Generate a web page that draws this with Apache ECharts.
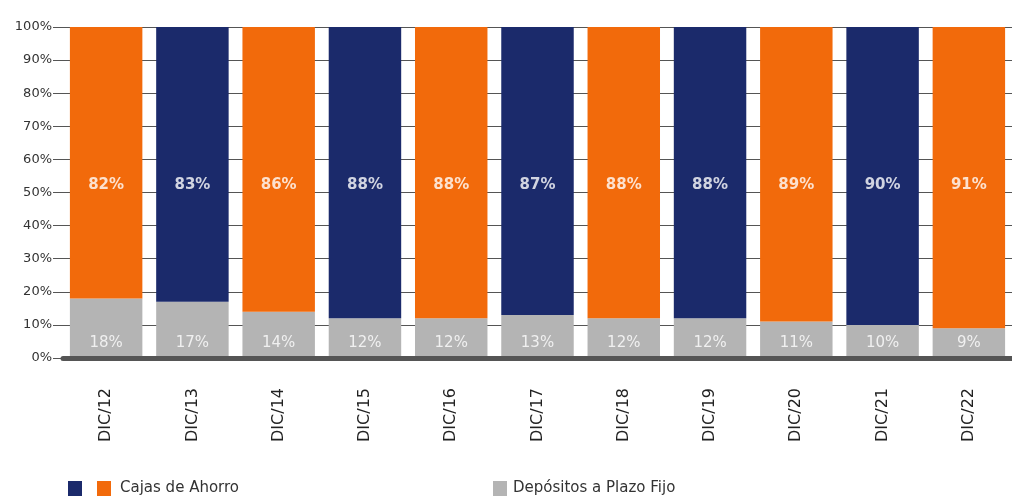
<!DOCTYPE html>
<html><head><meta charset="utf-8">
<script src="https://cdn.jsdelivr.net/npm/echarts@6/dist/echarts.min.js"></script>
<style>html,body{margin:0;padding:0;background:#fff}#c{width:1012px;height:498px}</style>
</head><body><div id="c"></div>
<script>
var categories = ['DIC/12','DIC/13','DIC/14','DIC/15','DIC/16','DIC/17','DIC/18','DIC/19','DIC/20','DIC/21','DIC/22'];
var cajasAhorro = [82, 83, 86, 88, 88, 87, 88, 88, 89, 90, 91];
var plazoFijo = [18, 17, 14, 12, 12, 13, 12, 12, 11, 10, 9];
var yTicks = [0, 10, 20, 30, 40, 50, 60, 70, 80, 90, 100];

var FONT = 'DejaVu Sans';
var ORANGE = '#f26a0b', NAVY = '#1b2a6b', GRAY = '#b4b4b4';
var orangeData = cajasAhorro.map(function (v, i) { return i % 2 === 0 ? v : '-'; });
var navyData = cajasAhorro.map(function (v, i) { return i % 2 === 1 ? v : '-'; });

var topLabel = {
  show: true, position: 'insideTop', distance: 151,
  formatter: '{c}%', color: 'rgba(255,255,255,0.8)', fontSize: 15, fontWeight: 'bold',
  fontFamily: FONT
};

var chart = echarts.init(document.getElementById('c'));
chart.setOption({
  animation: false,
  grid: { left: 63, right: -5, top: 27, bottom: 140 },
  legend: [
    { left: 68, top: 481, padding: 0, itemWidth: 14, itemHeight: 15, itemGap: 15, icon: 'rect',
      data: ['navyKey', 'Cajas de Ahorro'],
      formatter: function (n) { return n === 'navyKey' ? '' : n; },
      textStyle: { fontSize: 15, color: '#333', fontFamily: FONT, padding: [0, 0, 0, 4] } },
    { left: 493, top: 481, padding: 0, itemWidth: 14, itemHeight: 15, icon: 'rect',
      data: ['Depósitos a Plazo Fijo'],
      textStyle: { fontSize: 15, color: '#333', fontFamily: FONT, padding: [0, 0, 0, 1] } }
  ],
  xAxis: {
    type: 'category', data: categories,
    axisLine: { lineStyle: { color: '#555', width: 5 } },
    axisTick: { show: false },
    axisLabel: { rotate: 90, margin: 30, fontSize: 16, color: '#222', fontFamily: FONT },
    z: 10
  },
  yAxis: {
    type: 'value', min: 0, max: 100, interval: 10,
    axisLine: { show: false },
    axisTick: { show: true, length: 10, lineStyle: { color: '#555' } },
    splitLine: { lineStyle: { color: '#555', width: 1 } },
    axisLabel: { formatter: function (v) { return yTicks.indexOf(v) >= 0 ? v + '%' : ''; }, fontSize: 13, color: '#333', margin: 11, fontFamily: FONT }
  },
  series: [
    { name: 'Depósitos a Plazo Fijo', type: 'bar', stack: 't', barWidth: '84%', data: plazoFijo,
      itemStyle: { color: GRAY },
      label: { show: true, position: 'insideBottom', distance: 7, formatter: '{c}%', color: 'rgba(255,255,255,0.8)', fontSize: 15, fontFamily: FONT } },
    { name: 'Cajas de Ahorro', type: 'bar', stack: 't', data: orangeData, itemStyle: { color: ORANGE }, label: topLabel },
    { name: 'navyKey', type: 'bar', stack: 't', data: navyData, itemStyle: { color: NAVY }, label: topLabel }
  ]
});
</script></body></html>
